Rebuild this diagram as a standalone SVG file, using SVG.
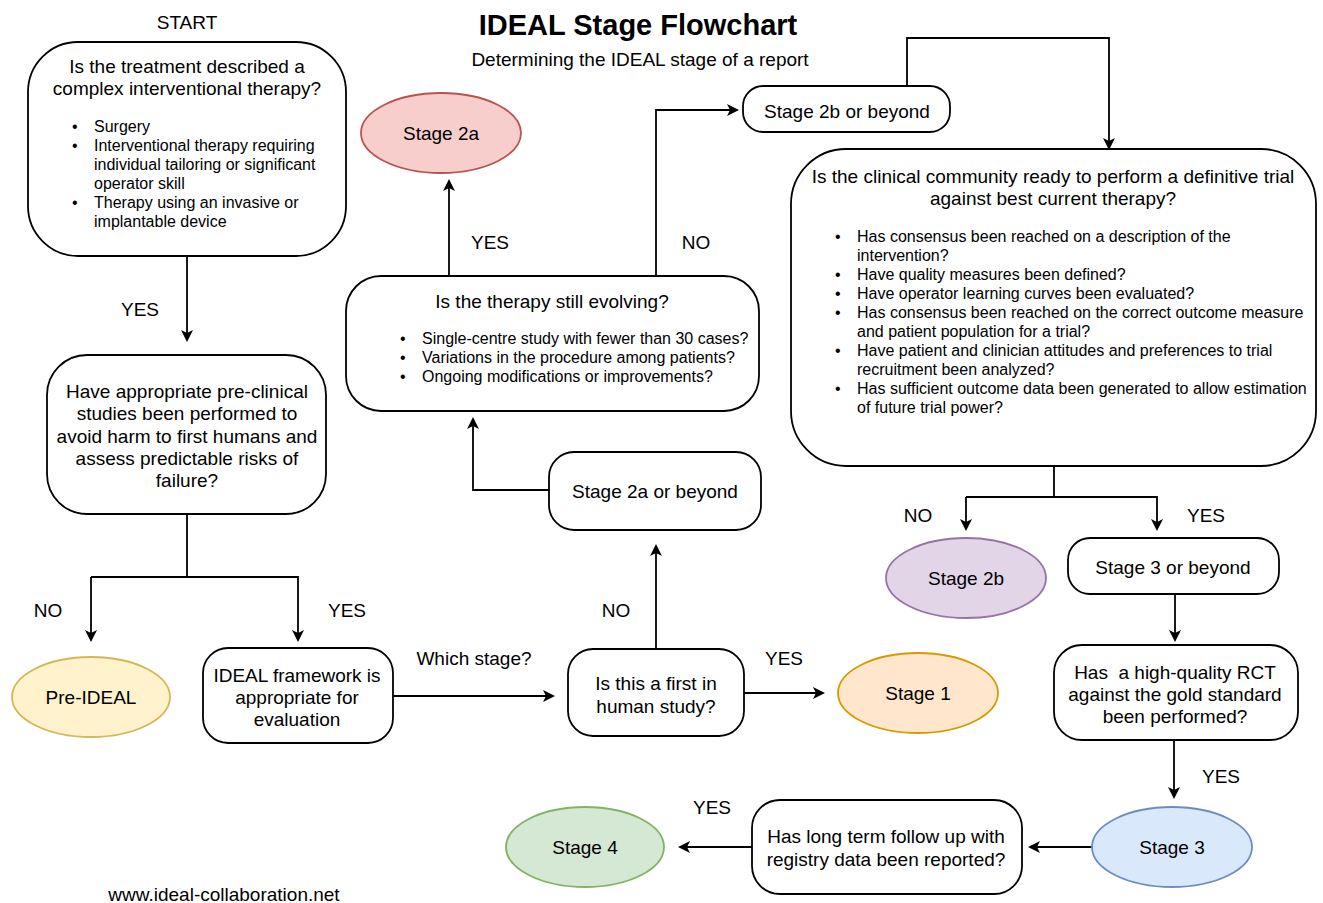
<svg xmlns="http://www.w3.org/2000/svg" width="1323" height="903" viewBox="0 0 1323 903">
<defs>
<marker id="arr" viewBox="0 0 12 12" refX="10" refY="6" markerWidth="12" markerHeight="12" markerUnits="userSpaceOnUse" orient="auto">
<path d="M0,0 L12,6 L0,12 L3,6 Z" fill="#000"/>
</marker>
</defs>
<style>
text{font-family:"Liberation Sans",Arial,sans-serif;fill:#000}
.box{fill:#fff;stroke:#000;stroke-width:1.8}
.c{font-size:19px;text-anchor:middle}
.s{font-size:16px}
.lbl{font-size:19px;text-anchor:middle}
.con path{fill:none;stroke:#000;stroke-width:1.8}
.ar{marker-end:url(#arr)}
</style>
<rect width="1323" height="903" fill="#fff"/>
<g id="header">
<text x="638" y="35" style="font-size:29px;font-weight:bold" text-anchor="middle">IDEAL Stage Flowchart</text>
<text x="640" y="66" class="c">Determining the IDEAL stage of a report</text>
<text x="187" y="29" class="c">START</text>
<text x="224" y="901" class="c">www.ideal-collaboration.net</text>
</g>
<g class="con" id="connectors">
<path class="ar" d="M187,256 V340"/>
<path d="M187,514 V577 H91"/>
<path class="ar" d="M91,577 V640"/>
<path class="ar" d="M187,577 H298 V640"/>
<path class="ar" d="M393,696 H553"/>
<path class="ar" d="M744,693 H823"/>
<path class="ar" d="M656,649 V546"/>
<path class="ar" d="M549,490 H473 V419"/>
<path class="ar" d="M449,276 V181"/>
<path class="ar" d="M656,276 V110 H737"/>
<path class="ar" d="M907,86 V38 H1109 V148"/>
<path d="M1054,466 V497 H966"/>
<path class="ar" d="M966,497 V529"/>
<path class="ar" d="M1054,497 H1157 V529"/>
<path class="ar" d="M1175,594 V640"/>
<path class="ar" d="M1174,740 V797"/>
<path class="ar" d="M1093,847 H1030"/>
<path class="ar" d="M752,847 H680"/>
<text x="140" y="316" class="lbl">YES</text>
<text x="48" y="617" class="lbl">NO</text>
<text x="347" y="617" class="lbl">YES</text>
<text x="474" y="665" class="lbl">Which stage?</text>
<text x="784" y="665" class="lbl">YES</text>
<text x="616" y="617" class="lbl">NO</text>
<text x="490" y="249" class="lbl">YES</text>
<text x="696" y="249" class="lbl">NO</text>
<text x="918" y="522" class="lbl">NO</text>
<text x="1206" y="522" class="lbl">YES</text>
<text x="1221" y="783" class="lbl">YES</text>
<text x="712" y="814" class="lbl">YES</text>
</g>
<g id="q1">
<rect class="box" x="28" y="42" width="318" height="214" rx="50"/>
<text x="187" y="73" class="c">Is the treatment described a</text>
<text x="187" y="95" class="c">complex interventional therapy?</text>
<g class="s">
<text x="72" y="132">•</text><text x="94" y="132">Surgery</text>
<text x="72" y="151">•</text><text x="94" y="151">Interventional therapy requiring</text>
<text x="94" y="170">individual tailoring or significant</text>
<text x="94" y="189">operator skill</text>
<text x="72" y="208">•</text><text x="94" y="208">Therapy using an invasive or</text>
<text x="94" y="227">implantable device</text>
</g>
</g>
<g id="q2">
<rect class="box" x="47" y="355" width="279" height="159" rx="40"/>
<text x="187" y="398" class="c">Have appropriate pre-clinical</text>
<text x="187" y="420" class="c">studies been performed to</text>
<text x="187" y="443" class="c">avoid harm to first humans and</text>
<text x="187" y="465" class="c">assess predictable risks of</text>
<text x="187" y="487" class="c">failure?</text>
</g>
<g id="preideal">
<ellipse cx="91" cy="697" rx="79" ry="40" fill="#fff2cc" stroke="#d6b656" stroke-width="1.8"/>
<text x="91" y="704" class="c">Pre-IDEAL</text>
</g>
<g id="framework">
<rect class="box" x="203" y="648" width="190" height="95" rx="25"/>
<text x="297" y="682" class="c">IDEAL framework is</text>
<text x="297" y="704" class="c">appropriate for</text>
<text x="297" y="726" class="c">evaluation</text>
</g>
<g id="firsthuman">
<rect class="box" x="568" y="649" width="176" height="87" rx="25"/>
<text x="656" y="690" class="c">Is this a first in</text>
<text x="656" y="713" class="c">human study?</text>
</g>
<g id="stage1">
<ellipse cx="918" cy="693" rx="80" ry="40" fill="#ffe6cc" stroke="#d79b00" stroke-width="1.8"/>
<text x="918" y="700" class="c">Stage 1</text>
</g>
<g id="s2aorbeyond">
<rect class="box" x="549" y="452" width="212" height="78" rx="25"/>
<text x="655" y="498" class="c">Stage 2a or beyond</text>
</g>
<g id="evolving">
<rect class="box" x="346" y="276" width="413" height="135" rx="35"/>
<text x="552" y="308" class="c">Is the therapy still evolving?</text>
<g class="s">
<text x="400" y="344">•</text><text x="422" y="344">Single-centre study with fewer than 30 cases?</text>
<text x="400" y="363">•</text><text x="422" y="363">Variations in the procedure among patients?</text>
<text x="400" y="382">•</text><text x="422" y="382">Ongoing modifications or improvements?</text>
</g>
</g>
<g id="stage2a">
<ellipse cx="441" cy="133" rx="80" ry="40" fill="#f8cecc" stroke="#b85450" stroke-width="1.8"/>
<text x="441" y="140" class="c">Stage 2a</text>
</g>
<g id="s2borbeyond">
<rect class="box" x="743" y="86" width="207" height="46" rx="20"/>
<text x="847" y="118" class="c">Stage 2b or beyond</text>
</g>
<g id="community">
<rect class="box" x="791" y="149" width="525" height="317" rx="55"/>
<text x="1053" y="183" class="c">Is the clinical community ready to perform a definitive trial</text>
<text x="1053" y="205" class="c">against best current therapy?</text>
<g class="s">
<text x="835" y="242">•</text><text x="857" y="242">Has consensus been reached on a description of the</text>
<text x="857" y="261">intervention?</text>
<text x="835" y="280">•</text><text x="857" y="280">Have quality measures been defined?</text>
<text x="835" y="299">•</text><text x="857" y="299">Have operator learning curves been evaluated?</text>
<text x="835" y="318">•</text><text x="857" y="318">Has consensus been reached on the correct outcome measure</text>
<text x="857" y="337">and patient population for a trial?</text>
<text x="835" y="356">•</text><text x="857" y="356">Have patient and clinician attitudes and preferences to trial</text>
<text x="857" y="375">recruitment been analyzed?</text>
<text x="835" y="394">•</text><text x="857" y="394">Has sufficient outcome data been generated to allow estimation</text>
<text x="857" y="413">of future trial power?</text>
</g>
</g>
<g id="stage2b">
<ellipse cx="966" cy="578" rx="80" ry="40" fill="#e1d5e7" stroke="#9673a6" stroke-width="1.8"/>
<text x="966" y="585" class="c">Stage 2b</text>
</g>
<g id="s3orbeyond">
<rect class="box" x="1068" y="538" width="211" height="56" rx="22"/>
<text x="1173" y="574" class="c">Stage 3 or beyond</text>
</g>
<g id="rct">
<rect class="box" x="1054" y="645" width="244" height="95" rx="28"/>
<text x="1175" y="679" class="c" style="white-space:pre">Has  a high-quality RCT</text>
<text x="1175" y="701" class="c">against the gold standard</text>
<text x="1175" y="723" class="c">been performed?</text>
</g>
<g id="stage3">
<ellipse cx="1172" cy="847" rx="80" ry="40" fill="#dae8fc" stroke="#6c8ebf" stroke-width="1.8"/>
<text x="1172" y="854" class="c">Stage 3</text>
</g>
<g id="longterm">
<rect class="box" x="752" y="800" width="270" height="94" rx="28"/>
<text x="886" y="843" class="c">Has long term follow up with</text>
<text x="886" y="866" class="c">registry data been reported?</text>
</g>
<g id="stage4">
<ellipse cx="585" cy="847" rx="79" ry="40" fill="#d5e8d4" stroke="#82b366" stroke-width="1.8"/>
<text x="585" y="854" class="c">Stage 4</text>
</g>
</svg>
